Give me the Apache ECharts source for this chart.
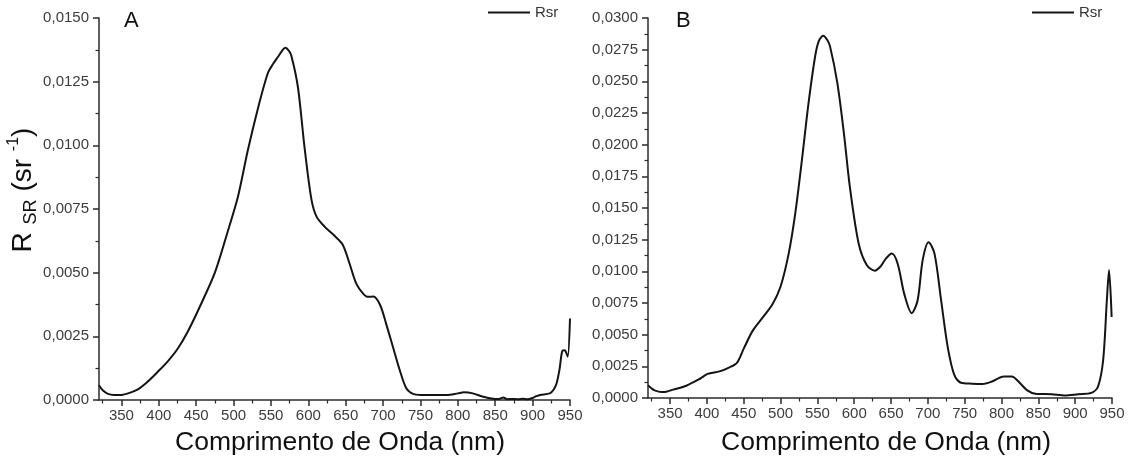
<!DOCTYPE html>
<html><head><meta charset="utf-8">
<script src="https://cdn.jsdelivr.net/npm/echarts@6/dist/echarts.min.js"></script>
<style>html,body{margin:0;padding:0;background:#fff}#c{width:1132px;height:463px}</style>
</head><body><div id="c"></div>
<script>
// ---- data ----
const wavelengthA = [320,325,332,340,350,360,372,385,399,412,425,439,457,475,492,506,519,533,546,553,560,565,569,573,577,586,595,604,611,622,635,646,655,664,673,680,687,696,704,713,722,731,740,750,763,785,800,808,820,834,847,855,861,866,872,880,887,893,899,905,910,923,928,932,936,940,943,945,947,950];
const rsrA = [0.00058,0.00038,0.00024,0.00020,0.00020,0.00027,0.00042,0.00072,0.00112,0.00152,0.00200,0.00270,0.00380,0.00500,0.00660,0.00800,0.00980,0.01150,0.01285,0.01320,0.01350,0.01372,0.01383,0.01375,0.01355,0.01230,0.00990,0.00790,0.00720,0.00680,0.00645,0.00610,0.00537,0.00458,0.00419,0.00405,0.00406,0.00373,0.00300,0.00210,0.00120,0.00046,0.00024,0.00020,0.00020,0.00020,0.00026,0.00030,0.00026,0.00013,0.00005,0.00004,0.00010,0.00003,0.00004,0.00003,0.00005,0.00003,0.00007,0.00015,0.00020,0.00026,0.00040,0.00065,0.00120,0.00194,0.00195,0.00185,0.00170,0.00320];
const wavelengthB = [320,325,329,338,345,354,372,390,401,417,430,441,450,462,475,489,500,511,520,529,538,547,552,558,563,567,577,586,594,606,617,628,636,643,651,659,668,678,686,693,701,709,718,727,736,745,760,774,787,803,814,823,835,846,868,886,904,922,931,938,943,946,949.5];
const rsrB = [0.00100,0.00075,0.00060,0.00047,0.00050,0.00066,0.00097,0.00150,0.00190,0.00210,0.00240,0.00280,0.00390,0.00530,0.00630,0.00740,0.00880,0.01140,0.01460,0.01880,0.02330,0.02700,0.02820,0.02860,0.02830,0.02780,0.02490,0.02090,0.01670,0.01220,0.01050,0.01005,0.01040,0.01100,0.01140,0.01060,0.00820,0.00670,0.00770,0.01090,0.01230,0.01140,0.00770,0.00400,0.00180,0.00120,0.00113,0.00110,0.00130,0.00170,0.00170,0.00130,0.00060,0.00034,0.00030,0.00020,0.00030,0.00040,0.00090,0.00300,0.00770,0.01010,0.00640];
const xTickLabels = [350,400,450,500,550,600,650,700,750,800,850,900,950];
const xMinorTicks = [325,375,425,475,525,575,625,675,725,775,825,875,925];
const yMaxA = 0.015, yMaxB = 0.030, yStep = 0.0025;
const seriesName = 'Rsr';
const panelLetters = ['A','B'];
const xTitle = 'Comprimento de Onda (nm)';

const AX = '#2b2b2b', LBL = '#3c3c3c', INK = '#141414';
const FONT = '"Liberation Sans", Arial, sans-serif';
const zip = (xs, ys) => xs.map((x, i) => [x, ys[i]]);

function xAxesFor(g) {
  return [
    { type:'value', gridIndex:g, min:320, max:950, position:'bottom',
      axisLine:{show:true, lineStyle:{color:AX, width:1.5}},
      axisTick:{show:true, length:6, customValues:xTickLabels, lineStyle:{color:AX, width:1.5}},
      axisLabel:{customValues:xTickLabels, margin:8, fontSize:15, color:LBL, fontFamily:FONT},
      splitLine:{show:false} },
    { type:'value', gridIndex:g, min:320, max:950, position:'bottom',
      axisLine:{show:false},
      axisTick:{show:true, length:3.5, customValues:xMinorTicks, lineStyle:{color:AX, width:1.2}},
      axisLabel:{show:false}, splitLine:{show:false} }
  ];
}
function yAxisFor(g, max) {
  return { type:'value', gridIndex:g, min:0, max:max, interval:yStep,
    axisLine:{show:true, lineStyle:{color:AX, width:1.5}},
    axisTick:{show:true, length:6, lineStyle:{color:AX, width:1.5}},
    minorTick:{show:true, splitNumber:2, length:3.5, lineStyle:{color:AX, width:1.2}},
    axisLabel:{margin:10, fontSize:15, color:LBL, fontFamily:FONT,
      formatter: v => v.toFixed(4).replace('.', ',')},
    splitLine:{show:false}, minorSplitLine:{show:false} };
}
const lineSeries = (xi, yi, data) => ({
  name:seriesName, type:'line', xAxisIndex:xi, yAxisIndex:yi, data:data,
  symbol:'none', showSymbol:false, smooth:0.3, clip:true,
  lineStyle:{color:INK, width:2}, itemStyle:{color:INK}
});
const legendAt = left => ({
  left:left, top:5, padding:0, itemWidth:42, itemHeight:2, itemGap:5,
  data:[{name:seriesName, icon:'rect'}], itemStyle:{color:INK},
  textStyle:{fontSize:15, color:'#333', fontFamily:FONT}
});

const chart = echarts.init(document.getElementById('c'), null, {renderer:'canvas'});
chart.setOption({
  animation:false,
  backgroundColor:'#fff',
  grid:[
    {left:99, top:18, width:471, height:382},
    {left:648, top:18, width:464, height:380}
  ],
  xAxis:[...xAxesFor(0), ...xAxesFor(1)],
  yAxis:[yAxisFor(0, yMaxA), yAxisFor(1, yMaxB)],
  legend:[legendAt(488), legendAt(1032)],
  series:[
    lineSeries(0, 0, zip(wavelengthA, rsrA)),
    lineSeries(2, 1, zip(wavelengthB, rsrB))
  ],
  graphic:[
    {type:'text', x:124, y:21, style:{text:panelLetters[0], fontSize:22, fill:'#111', fontFamily:FONT, textVerticalAlign:'middle'}},
    {type:'text', x:676, y:21, style:{text:panelLetters[1], fontSize:22, fill:'#111', fontFamily:FONT, textVerticalAlign:'middle'}},
    {type:'text', x:340, y:443, style:{text:xTitle, fontSize:26.5, fill:'#111', fontFamily:FONT, textAlign:'center', textVerticalAlign:'middle'}},
    {type:'text', x:886, y:443, style:{text:xTitle, fontSize:26.5, fill:'#111', fontFamily:FONT, textAlign:'center', textVerticalAlign:'middle'}},
    {type:'text', x:23, y:190, rotation:Math.PI/2,
      style:{text:'{b|R }{s|SR}{b| (sr }{p|-1}{b|)}', fill:'#111', fontFamily:FONT,
        textAlign:'center', textVerticalAlign:'middle',
        rich:{
          b:{fontSize:28, lineHeight:34, fontFamily:FONT, fill:'#111'},
          s:{fontSize:18, lineHeight:34, fontFamily:FONT, fill:'#111', verticalAlign:'bottom'},
          p:{fontSize:16, lineHeight:34, fontFamily:FONT, fill:'#111', verticalAlign:'top'}
        }}}
  ]
});
</script>
</body></html>
